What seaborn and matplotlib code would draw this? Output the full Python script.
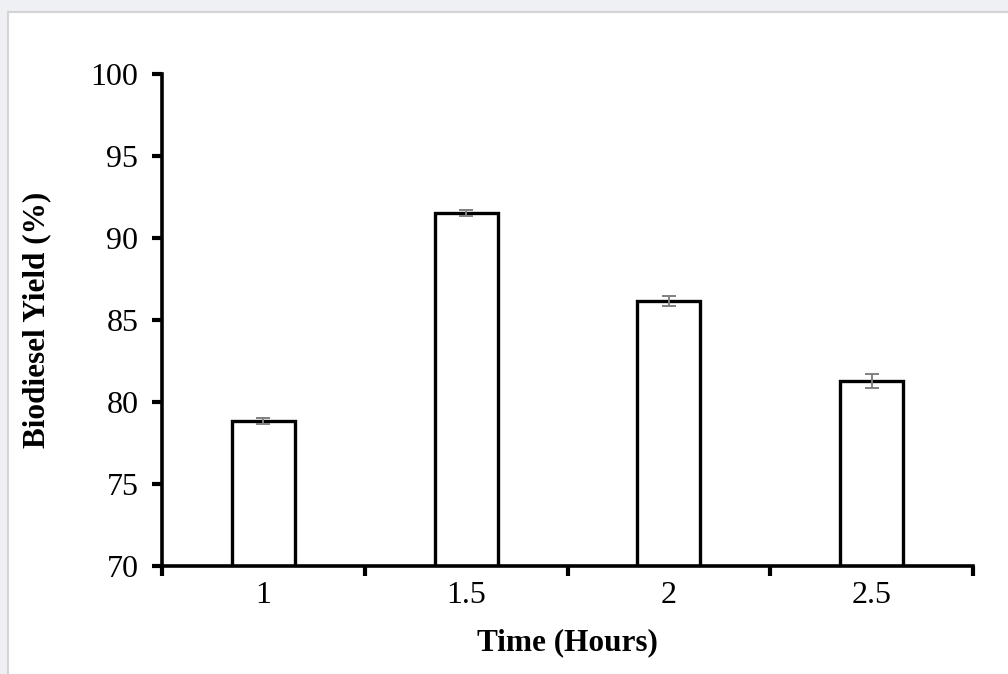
import numpy as np
import pandas as pd
import seaborn as sns
import matplotlib
matplotlib.use('Agg')
import matplotlib.pyplot as plt
from matplotlib.patches import Rectangle

# data
time_hours = ['1', '1.5', '2', '2.5']
yield_pct = [78.85, 91.55, 86.15, 81.3]
yield_err = [0.2, 0.18, 0.3, 0.42]

df = pd.DataFrame({'time': time_hours, 'yield': yield_pct})

sns.set_theme(style='white')
plt.rcParams['font.family'] = ['Liberation Serif', 'DejaVu Serif']
plt.rcParams['text.color'] = 'black'
plt.rcParams['axes.labelcolor'] = 'black'
plt.rcParams['xtick.color'] = 'black'
plt.rcParams['ytick.color'] = 'black'

fig = plt.figure(figsize=(10.08, 6.74), dpi=100)
fig.patch.set_facecolor('#eef0f4')
# white chart area with thin gray frame
fig.patches.append(Rectangle((8 / 1008, -0.05), 1.1, 1 - 12 / 674 + 0.05,
                             transform=fig.transFigure, facecolor='white',
                             edgecolor='#d4d4d4', linewidth=1.5, zorder=-10))

ax = fig.add_axes([162 / 1008, 1 - 566 / 674, (973 - 162) / 1008, (566 - 74) / 674])
ax.set_facecolor('none')

sns.barplot(data=df, x='time', y='yield', color='white', edgecolor='black',
            linewidth=2.4, width=0.31, errorbar=None, ax=ax)
ax.errorbar(ax.get_xticks(), yield_pct, yerr=yield_err, fmt='none',
            ecolor='#808080', elinewidth=1.4, capsize=5, capthick=1.4)

ax.set_ylim(70, 100)
ax.set_yticks(np.arange(70, 101, 5))
ax.set_xlim(-0.5, 3.5)

# tick marks sit between categories, labels at the centres
ax.set_xticks(np.arange(-0.5, 3.6, 1), minor=True)
ax.tick_params(axis='x', which='major', length=0, pad=11, labelsize=23)
ax.tick_params(axis='x', which='minor', direction='out', length=7, width=3, bottom=True, color='black')
ax.tick_params(axis='y', direction='out', length=7, width=3, left=True, color='black',
               pad=10, labelsize=23)

for side in ['top', 'right']:
    ax.spines[side].set_visible(False)
for side in ['left', 'bottom']:
    ax.spines[side].set_linewidth(2.6)
    ax.spines[side].set_color('black')

ax.set_xlabel('Time (Hours)', fontsize=22.5, fontweight='bold', labelpad=13)
ax.set_ylabel('Biodiesel Yield (%)', fontsize=22.5, fontweight='bold', labelpad=28)

fig.savefig('out.png', dpi=100, facecolor=fig.get_facecolor())
